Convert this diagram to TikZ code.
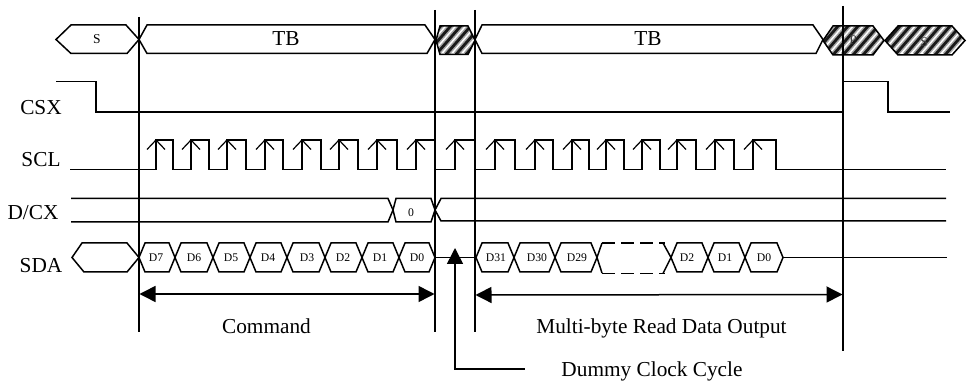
\documentclass[tikz,border=0pt]{standalone}
\usepackage{fontspec}
\setmainfont{Liberation Serif}
\usetikzlibrary{arrows.meta}
\newcommand{\hatchhex}[7]{% left-tip, top-left, top-right, right-tip, ytop, ybot, spacing
  \begin{scope}
    \clip (#1,{(#5+#6)/2}) -- (#2,#5) -- (#3,#5) -- (#4,{(#5+#6)/2}) -- (#3,#6) -- (#2,#6) -- cycle;
    \foreach \hi in {-4,...,22}{
      \draw[line width=5.8pt,black!35] ({#1+\hi*#7},#6) -- ({#1+\hi*#7+26},{#6-30});
      \draw[line width=2.8pt,black!90] ({#1+\hi*#7},#6) -- ({#1+\hi*#7+26},{#6-30});
    }
  \end{scope}
  \draw[wave] (#1,{(#5+#6)/2}) -- (#2,#5) -- (#3,#5) -- (#4,{(#5+#6)/2}) -- (#3,#6) -- (#2,#6) -- cycle;
}
\begin{document}
\begin{tikzpicture}[x=1pt,y=-1pt,
  wave/.style={draw=black,line width=1.5pt,line join=miter},
  rule/.style={draw=black,line width=1.4pt},
  tick/.style={draw=black,line width=1.2pt},
  sig/.style={font=\fontsize{21.3}{21}\selectfont,inner sep=0pt,anchor=base},
  tiny/.style={font=\fontsize{11.7}{12}\selectfont,inner sep=0pt,anchor=base},
  small/.style={font=\fontsize{13.5}{14}\selectfont,inner sep=0pt,anchor=base},
  span/.style={draw=black,line width=1.5pt,{Triangle[length=16pt,width=16pt]}-{Triangle[length=16pt,width=16pt]}},
  pointer/.style={draw=black,line width=1.5pt,{Triangle[length=16pt,width=16pt]}-}]
\useasboundingbox (0,0) rectangle (969,387);
\fill[white] (0,0) rectangle (969,387);

% top bus
\draw[wave] (139,39.5) -- (126,25) -- (71,25) -- (56,39.5) -- (71,53.5) -- (127,53.5) -- cycle;
\draw[wave] (139,39.5) -- (147,25) -- (425,25) -- (435,39.5) -- (427,53.5) -- (147,53.5) -- cycle;
\draw[wave] (475,39.5) -- (482,25) -- (813,25) -- (823,39.5) -- (816,53.5) -- (482,53.5) -- cycle;
\hatchhex{436}{440}{468}{475}{26}{54.5}{10}
\hatchhex{823}{833}{873}{884}{26}{55}{10}
\hatchhex{885}{898}{952}{965}{26}{55}{10}
\node[small] (ls) at (97,44) {S};
\node[sig] (tba) at (286,45.7) {TB};
\node[sig] (tbb) at (648,45.7) {TB};
\node[small,text=black!75] (lp) at (853,45) {P};
\node[small,text=black!75] (ls2) at (924,47) {S};

% signal names
\node[sig] (csx) at (41,115) {CSX};
\node[sig] (scl) at (41,166.7) {SCL};
\node[sig] (dcx) at (33,220) {D/CX};
\node[sig] (sda) at (41,272.7) {SDA};

% CSX
\draw[wave] (56,81.5) -- (96,81.5) -- (96,112) -- (843,112) -- (843,81.5) -- (888,81.5) -- (888,112) -- (950,112);

% SCL
\draw[wave] (70,169.5)
  \foreach \r/\f in {156/173,191/209,227/246,265/283,302/321,339/358,377/397,416/435,455/475,495/515,535/553,572/589,606/624,642/660,677/696,715/734,753/776}{
    -- (\r,169.5) -- (\r,140) -- (\f,140) -- (\f,169.5)
  } -- (946,169.5);
\foreach \r in {156,191,227,265,302,339,377,416,455,495,535,572,606,642,677,715,753}{
  \draw[tick] (\r-9,149.5) -- (\r,140) -- (\r+9,149.5);
}

% D/CX
\draw[wave] (71,198.5) -- (388,198.5) -- (393,210) -- (388,222) -- (71,222);
\draw[wave] (393,210) -- (396,198.5) -- (431,198.5) -- (435,210) -- (431,222) -- (396,222) -- cycle;
\draw[wave] (946,198.5) -- (441,198.5) -- (435,210) -- (441,221) -- (946,221);
\node[tiny] (zero) at (411,216.7) {0};

% SDA
\draw[wave] (139,257.5) -- (127,243) -- (82,243) -- (72,257.5) -- (84,272) -- (127,272) -- cycle;
\foreach \a/\b in {139/175,175/213,213/250,250/287,287/325,325/362,362/399,399/435,476/514,514/555,555/597,671/708,708/745,745/783}{
  \draw[wave] (\a,257.5) -- (\a+6,243) -- (\b-6,243) -- (\b,257.5) -- (\b-6,272) -- (\a+6,272) -- cycle;
}
\draw[wave] (435,257.5) -- (476,257.5);
\draw[wave] (783,257.5) -- (947,257.5);
\draw[wave] (597,257.5) -- (602,243);
\draw[wave] (597,257.5) -- (602,273);
\draw[wave,dash pattern=on 13pt off 6pt] (602,243) -- (665,243);
\draw[wave,dash pattern=on 13pt off 6pt] (602,273.5) -- (665,273.5);
\draw[wave] (663,243) -- (671,257.5) -- (663,273.5);
\foreach \t/\x in {D7/156,D6/194,D5/231,D4/268,D3/307,D2/343,D1/380,D0/417,D31/496,D30/537,D29/577,D2/687,D1/725,D0/764}{
  \node[tiny] at (\x,261.7) {\t};
}

% vertical markers
\draw[rule] (139,17) -- (139,332);
\draw[rule] (435,10) -- (435,332);
\draw[rule] (475,10) -- (475,332);
\draw[rule] (843,6) -- (843,351);

% spans
\coordinate (cmdL) at (139.5,294);
\coordinate (cmdR) at (434.5,294);
\coordinate (rdL) at (475.5,295);
\coordinate (rdR) at (842.5,294.5);
\draw[span] (cmdL) -- (cmdR);
\draw[span] (rdL) -- (rdR);
\node[sig] (cmd) at (266.5,334) {Command};
\node[sig] (rd) at (661.5,334) {Multi-byte Read Data Output};

% dummy
\coordinate (dumTip) at (455,248);
\coordinate (dumEnd) at (525,369);
\draw[pointer] (dumTip) |- (dumEnd);
\node[sig] (dum) at (652,376) {Dummy Clock Cycle};
\end{tikzpicture}
\end{document}
